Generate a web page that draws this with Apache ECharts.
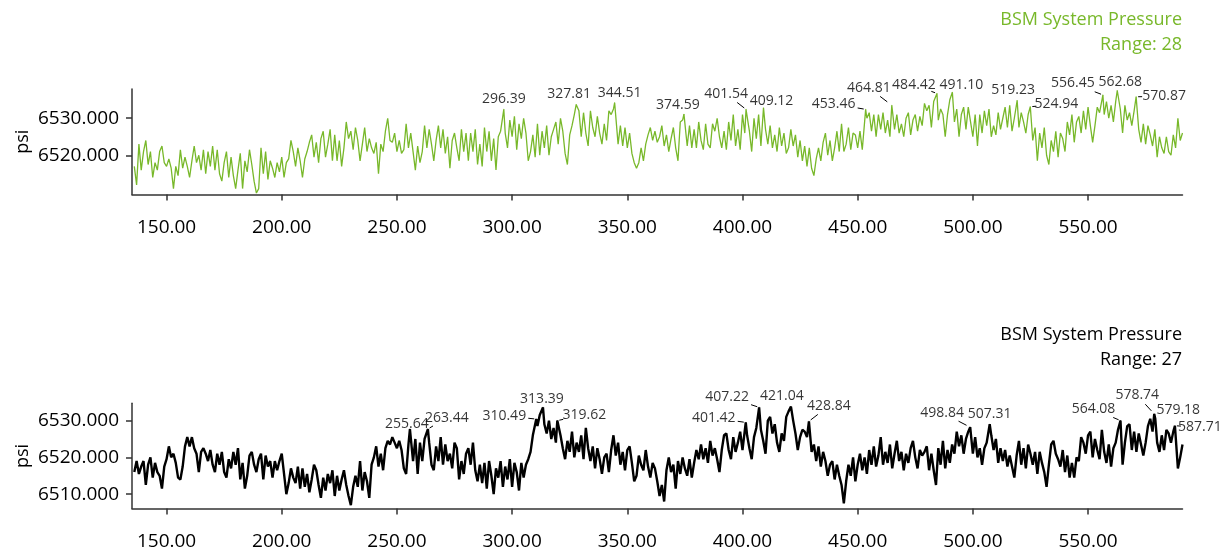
<!DOCTYPE html>
<html>
<head>
<meta charset="utf-8">
<script src="https://cdn.jsdelivr.net/npm/echarts@6/dist/echarts.min.js"></script>
<style>
  html, body { margin: 0; padding: 0; background: #ffffff; }
  #chart { width: 1220px; height: 549px; }
</style>
</head>
<body>
<div id="chart"></div>
<script>
// ---- axis ticks ----
const xTicks = [150, 200, 250, 300, 350, 400, 450, 500, 550];
const topTicks = [6520, 6530];
const bottomTicks = [6510, 6520, 6530];

// ---- readings: one sample per second, starting at t = 136 ----
const firstSample = 136;

const topPsi = [
  6517, 6512, 6523, 6516, 6521, 6524, 6517.5, 6521, 6514, 6518,
  6516, 6521, 6522.5, 6518, 6517, 6519, 6516.5, 6511, 6517, 6514.5,
  6521.5, 6516.5, 6519.5, 6517, 6514, 6518.5, 6522.5, 6518, 6520, 6516,
  6521.5, 6515, 6521, 6517, 6522.5, 6516, 6521.5, 6515, 6513, 6518,
  6521, 6514, 6519.5, 6514.5, 6511, 6516, 6520.5, 6511, 6518.5, 6515.5,
  6521.5, 6517.5, 6513, 6509.8, 6511, 6522, 6515, 6521, 6513.5, 6518.5,
  6516.5, 6514, 6518, 6515.5, 6519.5, 6514, 6518, 6519, 6524, 6521,
  6517, 6522, 6518.5, 6514, 6519, 6521, 6523.5, 6525.5, 6519.5, 6523.5,
  6518, 6524.5, 6526.5, 6519.5, 6523, 6527, 6518.5, 6525.5, 6518.5, 6524,
  6517, 6522, 6529, 6524.5, 6526.5, 6521.5, 6527.5, 6524, 6518.5, 6523,
  6527.5, 6521, 6524.5, 6522, 6520.5, 6523.5, 6515, 6523, 6521, 6526.5,
  6530, 6524, 6523.5, 6526, 6521, 6524, 6520.5, 6521.5, 6528.5, 6522,
  6526, 6521, 6516, 6522.5, 6518, 6521, 6528, 6522, 6527, 6523,
  6518.5, 6524, 6528, 6522, 6527, 6520.5, 6525, 6516.5, 6524, 6526,
  6522, 6518.5, 6527, 6521, 6526, 6518.5, 6526, 6521, 6527, 6517.5,
  6523, 6517, 6527.5, 6521, 6526.5, 6518.5, 6524.5, 6516, 6525, 6526.5,
  6531, 6526, 6522, 6529.5, 6525, 6530.5, 6521.5, 6528.5, 6524.5, 6530,
  6526, 6518.5, 6521, 6525.5, 6519.5, 6528.5, 6520, 6526.5, 6522, 6528,
  6520, 6525, 6527, 6529, 6523, 6530, 6526.5, 6520.5, 6517.5, 6525.5,
  6528, 6531, 6533, 6532, 6525, 6531.5, 6526, 6522.5, 6532, 6527.5,
  6525, 6530.5, 6526, 6523, 6528.5, 6524, 6532, 6531, 6532.5, 6534,
  6523, 6528, 6522.5, 6527.5, 6522, 6526, 6520.5, 6518, 6516.5, 6518,
  6522, 6518.5, 6523, 6525.5, 6527.5, 6524, 6526.5, 6523.5, 6525, 6528,
  6522.5, 6525.5, 6521, 6524.5, 6527.5, 6522, 6518.5, 6529, 6529.5, 6531,
  6522.5, 6528, 6522, 6527, 6522, 6529, 6524, 6521.5, 6528.5, 6523,
  6522, 6528.5, 6526.5, 6530, 6525, 6522, 6526.5, 6521.5, 6529, 6524,
  6531, 6522.5, 6527, 6521.5, 6531, 6526, 6532, 6526.5, 6521, 6530,
  6524.5, 6531, 6522.5, 6532, 6527, 6523, 6528, 6522, 6525.5, 6521,
  6527.5, 6522.5, 6526, 6520.5, 6522, 6527, 6522.5, 6525.5, 6519.5, 6524,
  6518.5, 6522.5, 6517, 6522, 6516.5, 6514.5, 6519, 6522, 6518.5, 6523.5,
  6526, 6520, 6524, 6518.5, 6522, 6526.5, 6521, 6528.5, 6521, 6523,
  6527.5, 6521.5, 6526, 6525.5, 6522, 6526.5, 6521.5, 6532, 6530, 6531.5,
  6526.5, 6531, 6525, 6531, 6527, 6531.5, 6526, 6529.5, 6525, 6533,
  6527, 6531, 6526, 6528.5, 6525, 6530, 6531.5, 6525.5, 6529.5, 6531,
  6526.5, 6530.5, 6528, 6534, 6532, 6533.5, 6527.5, 6534.5, 6536, 6529.5,
  6532.5, 6531, 6525, 6531, 6535, 6536.5, 6529, 6532.5, 6525, 6531,
  6533, 6527, 6533, 6529, 6525, 6531, 6522.5, 6531, 6526, 6532,
  6528, 6532.5, 6525, 6528, 6525.5, 6531.5, 6527, 6530, 6533, 6527.5,
  6533.5, 6526.5, 6530, 6534.5, 6527.5, 6531.5, 6529, 6526, 6531, 6533,
  6524, 6527.5, 6518.5, 6526, 6522, 6527.5, 6520, 6517.5, 6524, 6521,
  6526.5, 6519.5, 6526, 6524.5, 6521, 6529, 6525.5, 6531, 6523.5, 6529,
  6530.5, 6526, 6532, 6527, 6533, 6528, 6523.5, 6528, 6533, 6531.5,
  6536, 6531, 6534.5, 6530, 6533.5, 6529, 6534.5, 6537, 6532.5, 6526,
  6533.5, 6529.5, 6531.5, 6528, 6532, 6535, 6527, 6523.5, 6528.5, 6523,
  6528, 6525.5, 6522.5, 6527, 6519.5, 6525, 6522, 6520.5, 6525, 6521,
  6520, 6525.5, 6522, 6530, 6524, 6526
];

const bottomPsi = [
  6516, 6519, 6515.5, 6517.5, 6519, 6512.5, 6518, 6520, 6514.5, 6518.5,
  6516, 6515, 6511.5, 6517.5, 6519.5, 6523, 6520, 6521, 6518.5, 6514.5,
  6514, 6517.5, 6523, 6525.5, 6523, 6525.5, 6522.5, 6521, 6516, 6521.5,
  6522.5, 6521, 6519, 6522, 6518, 6516, 6521, 6518, 6521.5, 6516,
  6514.5, 6519.5, 6517, 6521.5, 6518, 6522.5, 6514, 6518.5, 6511.5, 6515,
  6520.5, 6521.5, 6518, 6516, 6519.5, 6521, 6514, 6520.5, 6517.5, 6519,
  6514.5, 6519, 6516.5, 6519, 6521, 6515.5, 6510, 6513, 6517, 6514.5,
  6513, 6517.5, 6511.5, 6517, 6512, 6515.5, 6510.5, 6514, 6518, 6516.5,
  6512.5, 6509, 6514.5, 6511, 6515.5, 6513, 6516.5, 6509.5, 6515, 6511,
  6514, 6516.5, 6512.5, 6509.5, 6507, 6512, 6515, 6512, 6519, 6511,
  6516, 6513.5, 6509, 6518, 6520, 6523, 6517.5, 6521, 6516.5, 6522.5,
  6524.5, 6523.5, 6525.5, 6524, 6522.5, 6524.5, 6522, 6517, 6515.5, 6523.5,
  6527, 6519, 6525, 6515.5, 6524, 6519, 6525, 6527, 6524, 6518,
  6516.5, 6523, 6519, 6525.5, 6518, 6523.5, 6519, 6521, 6517, 6524,
  6522.5, 6514, 6519, 6515.5, 6521, 6522.5, 6518, 6524, 6516.5, 6513.5,
  6518, 6513, 6518.5, 6511.5, 6519, 6515, 6510, 6517, 6514.5, 6519,
  6512, 6517.5, 6514, 6519.5, 6512, 6518.5, 6516, 6511, 6518.5, 6514.5,
  6518, 6519.5, 6521.5, 6526, 6530, 6528.5, 6531.5, 6533, 6529, 6526.5,
  6530, 6525, 6528, 6524, 6529.5, 6526, 6522.5, 6519.5, 6524.5, 6521.5,
  6527, 6520, 6524, 6521.5, 6526, 6519.5, 6528, 6522.5, 6519, 6523,
  6517, 6522.5, 6519.5, 6515.5, 6520, 6521, 6516, 6522, 6526, 6520.5,
  6524, 6518, 6521.5, 6516.5, 6522, 6523, 6518.5, 6513.5, 6515, 6520.5,
  6518, 6516.5, 6522, 6517.5, 6514.5, 6518.5, 6517, 6513.5, 6509.5, 6512.5,
  6508, 6516.5, 6520, 6516, 6518, 6511.5, 6519, 6515.5, 6520, 6517,
  6515, 6519.5, 6514.5, 6518.5, 6522, 6519.5, 6523.5, 6519.5, 6522.5, 6518.5,
  6524.5, 6520.5, 6522.5, 6519.5, 6516, 6522, 6526, 6526.5, 6522, 6519.5,
  6525.5, 6521.5, 6524, 6527, 6522, 6529, 6526, 6522.5, 6519.5, 6525.5,
  6528, 6533, 6527.5, 6524.5, 6521, 6530, 6531, 6526.5, 6529, 6524,
  6521.5, 6526.5, 6524.5, 6531, 6532.5, 6533.5, 6530, 6526.5, 6522, 6525.5,
  6527.5, 6527, 6525.5, 6529.5, 6521.5, 6523.5, 6519, 6523, 6517.5, 6521.5,
  6519, 6515, 6518, 6519, 6514, 6518, 6515, 6512.5, 6507.5, 6513.5,
  6518, 6515, 6520, 6513.5, 6518, 6521, 6516.5, 6520, 6515.5, 6522,
  6518, 6523, 6517.5, 6520.5, 6525.5, 6518, 6521.5, 6518.5, 6523.5, 6517,
  6521, 6524.5, 6519, 6521.5, 6516.5, 6521, 6518.5, 6522.5, 6524.5, 6520,
  6517, 6522, 6520.5, 6521.5, 6523, 6516.5, 6521, 6516.5, 6512.5, 6522.5,
  6518, 6524.5, 6517, 6522, 6518.5, 6523.5, 6521, 6527, 6523, 6526,
  6521, 6525, 6527, 6528, 6521, 6525.5, 6520, 6522.5, 6518, 6522.5,
  6524, 6529, 6526, 6522, 6525, 6518.5, 6522.5, 6519, 6522, 6517.5,
  6520.5, 6517.5, 6514.5, 6520.5, 6524.5, 6518, 6522.5, 6517, 6523.5, 6521,
  6518, 6521.5, 6515.5, 6521.5, 6518.5, 6516, 6512, 6518, 6523.5, 6524.5,
  6521, 6519.5, 6517.5, 6522, 6516, 6520.5, 6514.5, 6518.5, 6514.5, 6520,
  6519, 6525.5, 6524, 6521, 6526, 6527, 6520, 6525, 6522, 6519.5,
  6527.5, 6521.5, 6518.5, 6523.5, 6517.5, 6522.5, 6524, 6527.5, 6530, 6518,
  6524, 6528.5, 6529, 6522, 6527, 6521.5, 6526.5, 6523.5, 6520.5, 6524,
  6528.5, 6530.5, 6527, 6531, 6524, 6521.5, 6526, 6522, 6527.5, 6526.5,
  6524, 6527, 6528, 6517, 6520, 6523.5
];

// ---- tagged local peaks (time, psi) ----
const topPeakX = [296.39, 327.81, 344.51, 374.59, 401.54, 409.12, 453.46, 464.81,
                  484.42, 491.10, 519.23, 524.94, 556.45, 562.68, 570.87];
const topPeakPsi = [6532.4, 6533.7, 6534.2, 6531.1, 6532.4, 6532.8, 6532.4, 6533.5,
                    6536.7, 6537.0, 6534.8, 6533.1, 6536.3, 6537.5, 6535.8];

const bottomPeakX = [255.64, 263.44, 310.49, 313.39, 319.62, 401.42, 407.22, 421.04,
                     428.84, 498.84, 507.31, 564.08, 578.74, 579.18, 587.71];
const bottomPeakPsi = [6527.7, 6527.7, 6530.4, 6533.6, 6530.0, 6529.5, 6533.6, 6533.8,
                       6529.8, 6528.2, 6529.0, 6530.0, 6531.8, 6530.5, 6528.6];

// ---- tag label placement: [dx, dy, guide line] ----
const topTagLayout = [
  [0, 2, 0], [-7, 2, 0], [5, 3, 0], [-6, 3, 0], [-20, -3, 1], [8, 6, 0],
  [-32, 7, 1], [-23, -5, 1], [-23, 4, 1], [9, 5, 0], [-4, 2, 0], [26, 10, 1],
  [-30, 1, 1], [3, 4, 0], [28, 12, 1]
];
const bottomTagLayout = [
  [-3, 7, 0], [19, 1, 1], [-32, 9, 1], [-1, 4, 0], [27, 7, 1], [-32, 8, 1],
  [-32, 2, 1], [-9, 2, 0], [20, -3, 1], [-28, -2, 1], [0, 2, 0], [-27, 1, 1],
  [-17, -6, 1], [23, 4, 0], [25, 14, 1]
];

const GREEN = '#78b82a';
const INK = '#000000';
const FONT = 'Open Sans';
const LABEL_RISE = 12.5;   // centre of a 'top' label above its point, px
const LABEL_HALF = [23, 8]; // half width / half height of a tag label, px

// merge the regular samples with the tagged peaks (a peak takes the slot of its nearest sample)
function buildSeries(samples, peakX, peakY) {
  const taken = new Set(peakX.map(x => Math.round(x)));
  const pts = [];
  samples.forEach((v, i) => {
    const t = firstSample + i;
    if (!taken.has(t)) pts.push([t, v]);
  });
  peakX.forEach((x, i) => pts.push([x, peakY[i]]));
  pts.sort((a, b) => a[0] - b[0]);
  return pts;
}

function rangeOf(pts) {
  const ys = pts.map(p => p[1]);
  return Math.round(Math.max(...ys) - Math.min(...ys));
}

const topLine = buildSeries(topPsi, topPeakX, topPeakPsi);
const bottomLine = buildSeries(bottomPsi, bottomPeakX, bottomPeakPsi);

function xAxisCfg(gridIndex) {
  return {
    type: 'value', gridIndex, min: 135, max: 591,
    splitLine: { show: false },
    axisLine: { show: true, lineStyle: { color: '#333', width: 1.5 } },
    axisTick: { show: true, customValues: xTicks, length: 6, lineStyle: { color: '#333', width: 1.5 } },
    axisLabel: {
      customValues: xTicks, margin: 24, fontSize: 19, color: INK, fontFamily: FONT,
      formatter: v => v.toFixed(2)
    }
  };
}

function yAxisCfg(gridIndex, min, max, ticks) {
  return {
    type: 'value', gridIndex, min, max,
    name: 'psi', nameLocation: 'middle', nameGap: 100, nameMoveOverlap: false,
    nameTextStyle: { fontSize: 18, color: INK, fontFamily: FONT },
    splitLine: { show: false },
    axisLine: { show: true, lineStyle: { color: '#333', width: 1.5 } },
    axisTick: { show: true, customValues: ticks, length: 6, lineStyle: { color: '#333', width: 1.5 } },
    axisLabel: {
      customValues: ticks, margin: 13, fontSize: 19, color: INK, fontFamily: FONT,
      formatter: v => v.toFixed(3)
    }
  };
}

function tagSeries(axisIndex, peakX, peakY, layout, color) {
  return {
    type: 'scatter', xAxisIndex: axisIndex, yAxisIndex: axisIndex,
    symbolSize: 1, itemStyle: { color }, z: 5, silent: true,
    data: peakX.map((x, i) => [x, peakY[i]]),
    label: {
      show: true, position: 'top', distance: 5,
      fontSize: 14, color: INK, fontFamily: FONT,
      formatter: p => p.value[0].toFixed(2)
    },
    labelLayout: p => ({ dx: layout[p.dataIndex][0], dy: layout[p.dataIndex][1] })
  };
}

// short guide strokes between a shifted tag label and its point
function leaderSeries(axisIndex, peakX, peakY, layout) {
  const data = [];
  peakX.forEach((x, i) => { if (layout[i][2]) data.push([x, peakY[i], i]); });
  return {
    type: 'custom', xAxisIndex: axisIndex, yAxisIndex: axisIndex, z: 6, silent: true,
    data,
    renderItem: (params, api) => {
      const i = api.value(2);
      const c = api.coord([api.value(0), api.value(1)]);
      const vx = layout[i][0], vy = layout[i][1] - LABEL_RISE;
      const len = Math.hypot(vx, vy);
      const hx = vx ? LABEL_HALF[0] / Math.abs(vx) : Infinity;
      const hy = vy ? LABEL_HALF[1] / Math.abs(vy) : Infinity;
      const tEnd = Math.max(1 - Math.min(hx, hy) - 1 / len, 6 / len);
      const tStart = Math.max(tEnd - 9 / len, 2 / len);
      return {
        type: 'line',
        shape: { x1: c[0] + vx * tStart, y1: c[1] + vy * tStart, x2: c[0] + vx * tEnd, y2: c[1] + vy * tEnd },
        style: { stroke: INK, lineWidth: 1 }
      };
    }
  };
}

function titleLine(text, top, color) {
  return {
    text, right: 38, top, padding: 0,
    textStyle: { fontSize: 18, fontWeight: 'normal', color, fontFamily: FONT }
  };
}

const chart = echarts.init(document.getElementById('chart'));
chart.setOption({
  animation: false,
  backgroundColor: '#ffffff',
  textStyle: { fontFamily: FONT },
  title: [
    titleLine('BSM System Pressure', 11, GREEN),
    titleLine('Range: ' + rangeOf(topLine), 36, GREEN),
    titleLine('BSM System Pressure', 326, INK),
    titleLine('Range: ' + rangeOf(bottomLine), 351, INK)
  ],
  grid: [
    { left: 132, right: 37.5, top: 89, height: 105.5, outerBoundsMode: 'none' },
    { left: 132, right: 37.5, top: 403.3, height: 105.2, outerBoundsMode: 'none' }
  ],
  xAxis: [xAxisCfg(0), xAxisCfg(1)],
  yAxis: [
    yAxisCfg(0, 6509.4, 6537.9, topTicks),
    yAxisCfg(1, 6506.1, 6534.7, bottomTicks)
  ],
  series: [
    {
      type: 'line', xAxisIndex: 0, yAxisIndex: 0, data: topLine,
      showSymbol: false, symbol: 'none', silent: true,
      lineStyle: { color: GREEN, width: 1.3 }
    },
    {
      type: 'line', xAxisIndex: 1, yAxisIndex: 1, data: bottomLine,
      showSymbol: false, symbol: 'none', silent: true,
      lineStyle: { color: '#000000', width: 2.4 }
    },
    tagSeries(0, topPeakX, topPeakPsi, topTagLayout, GREEN),
    tagSeries(1, bottomPeakX, bottomPeakPsi, bottomTagLayout, '#000000'),
    leaderSeries(0, topPeakX, topPeakPsi, topTagLayout),
    leaderSeries(1, bottomPeakX, bottomPeakPsi, bottomTagLayout)
  ]
});
</script>
</body>
</html>
